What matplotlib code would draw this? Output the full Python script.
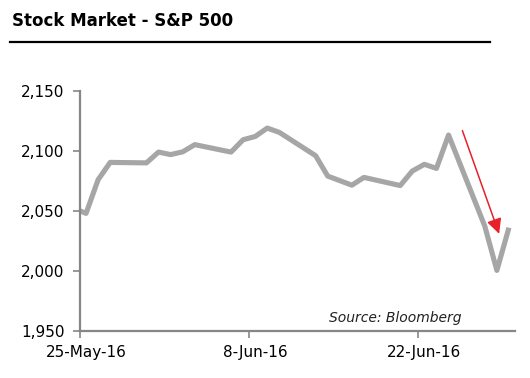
import matplotlib
matplotlib.use("Agg")
import matplotlib.pyplot as plt
import matplotlib.dates as mdates
import numpy as np
import pandas as pd
from matplotlib.lines import Line2D
from matplotlib.ticker import FuncFormatter, FixedLocator

# ---- data ----
dates = ["2016-05-24", "2016-05-25", "2016-05-26", "2016-05-27", "2016-05-30",
         "2016-05-31", "2016-06-01", "2016-06-02", "2016-06-03", "2016-06-06",
         "2016-06-07", "2016-06-08", "2016-06-09", "2016-06-10", "2016-06-13",
         "2016-06-14", "2016-06-15", "2016-06-16", "2016-06-17", "2016-06-20",
         "2016-06-21", "2016-06-22", "2016-06-23", "2016-06-24", "2016-06-27",
         "2016-06-28", "2016-06-29"]
values = [2052.3, 2048.0, 2076.1, 2090.5, 2090.1, 2099.1, 2097.0, 2099.3,
          2105.3, 2099.1, 2109.4, 2112.1, 2119.1, 2115.5, 2096.1, 2079.1,
          2075.3, 2071.5, 2078.0, 2071.2, 2083.3, 2088.9, 2085.5, 2113.3,
          2037.4, 2000.5, 2036.1]
tick_dates = ["2016-05-25", "2016-06-08", "2016-06-22"]
tick_labels = ["25-May-16", "8-Jun-16", "22-Jun-16"]
y_ticks = [1950, 2000, 2050, 2100, 2150]
x_range = ["2016-05-25", "2016-06-30"]
arrow_start = ("2016-06-25 15:30", 2117)
arrow_end = ("2016-06-28 16:30", 2031)

title = "Stock Market - S&P 500"
source = "Source: Bloomberg"

# ---- plot ----
plt.rcParams['font.family'] = ['DejaVu Sans']
fig = plt.figure(figsize=(5.30, 3.78), dpi=100)
ax = fig.add_axes([80/530, 1-331/378, (515-80)/530, (331-91)/378])

# Excel date axis "between tick marks": points sit in the middle of each day
x = pd.to_datetime(dates) + pd.Timedelta(hours=12)
ax.plot(x, values, color="#a6a6a6", lw=3.7, solid_joinstyle="round",
        solid_capstyle="butt", clip_on=True)

ax.set_xlim(pd.to_datetime(x_range[0]), pd.to_datetime(x_range[1]))
ax.set_ylim(y_ticks[0], y_ticks[-1])

spine_col = "#868686"
for s in ["top", "right"]:
    ax.spines[s].set_visible(False)
for s in ["left", "bottom"]:
    ax.spines[s].set_color(spine_col)
    ax.spines[s].set_linewidth(1.6)

ax.set_yticks(y_ticks)
ax.yaxis.set_major_formatter(FuncFormatter(lambda v, p: f"{int(v):,}"))
ax.tick_params(axis="y", length=5, width=1.2, color=spine_col, labelsize=11,
               pad=6, labelcolor="black")

tick_pos = mdates.date2num(pd.to_datetime(tick_dates))
ax.xaxis.set_major_locator(FixedLocator(tick_pos))
ax.xaxis.set_major_formatter(FuncFormatter(lambda v, p: ""))
ax.xaxis.set_minor_locator(FixedLocator(tick_pos + 0.5))
ax.set_xticklabels(tick_labels, minor=True)
ax.tick_params(axis="x", which="major", length=5, width=1.2, color=spine_col)
ax.tick_params(axis="x", which="minor", length=0, labelsize=11, pad=10)

ax.annotate("", xy=(pd.to_datetime(arrow_end[0]), arrow_end[1]),
            xytext=(pd.to_datetime(arrow_start[0]), arrow_start[1]),
            arrowprops=dict(arrowstyle="-|>,head_length=0.9,head_width=0.45",
                            color="#e8202a", lw=1.1, shrinkA=0, shrinkB=0))

ax.text(0.878, 0.055, source, transform=ax.transAxes, ha="right", va="center",
        fontsize=10, style="italic", color="#222222")

fig.text(12/530, 1-21/378, title, ha="left", va="center", fontsize=12,
         fontweight="bold", color="black")
fig.add_artist(Line2D([10/530, 490/530], [1-41.5/378, 1-41.5/378],
                      color="black", lw=1.6, transform=fig.transFigure))

fig.savefig("out.png", dpi=100)
